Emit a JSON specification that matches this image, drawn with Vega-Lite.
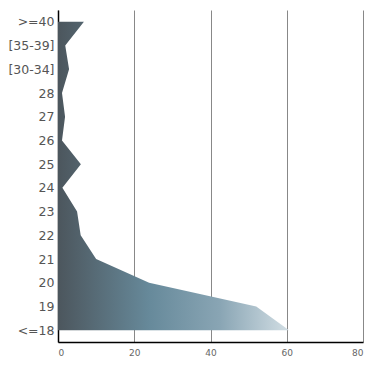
{
  "$schema": "https://vega.github.io/schema/vega-lite/v6.json",
  "width": 305,
  "height": 332,
  "padding": {"left": 7, "top": 10, "right": 10, "bottom": 0},
  "autosize": {"type": "pad"},
  "background": "white",
  "config": {"view": {"stroke": null}},
  "data": {
    "values": [
      {"age": ">=40", "value": 6.8},
      {"age": "[35-39]", "value": 1.9},
      {"age": "[30-34]", "value": 2.9},
      {"age": "28", "value": 1.05},
      {"age": "27", "value": 1.85},
      {"age": "26", "value": 1.05},
      {"age": "25", "value": 6.0},
      {"age": "24", "value": 1.15},
      {"age": "23", "value": 5.0},
      {"age": "22", "value": 5.95},
      {"age": "21", "value": 10.0},
      {"age": "20", "value": 23.9},
      {"age": "19", "value": 52.0},
      {"age": "<=18", "value": 60.6}
    ]
  },
  "mark": {
    "type": "area",
    "orient": "horizontal",
    "interpolate": "linear",
    "fill": {
      "gradient": "linear",
      "x1": 0, "y1": 0.5, "x2": 1, "y2": 0.5,
      "stops": [
        {"offset": 0, "color": "#4c565d"},
        {"offset": 0.4, "color": "#678a9b"},
        {"offset": 0.7, "color": "#89a5b4"},
        {"offset": 1, "color": "#d2dee4"}
      ]
    }
  },
  "encoding": {
    "y": {
      "field": "age",
      "type": "ordinal",
      "sort": null,
      "title": null,
      "scale": {"padding": 0.5},
      "axis": {
        "domain": true,
        "domainColor": "#000000",
        "domainWidth": 1.5,
        "ticks": false,
        "labelPadding": 4,
        "labelFontSize": 12.5,
        "labelColor": "#555555",
        "labelFont": "DejaVu Sans",
        "grid": false
      }
    },
    "x": {
      "field": "value",
      "type": "quantitative",
      "title": null,
      "scale": {"domain": [0, 80], "nice": false},
      "axis": {
        "values": [0, 20, 40, 60, 80],
        "domain": true,
        "domainColor": "#000000",
        "domainWidth": 1.5,
        "ticks": false,
        "labelPadding": 6,
        "labelFontSize": 9,
        "labelColor": "#666666",
        "labelFont": "DejaVu Sans",
        "grid": true,
        "gridColor": "#888888",
        "gridWidth": 1,
        "gridOpacity": 1
      }
    }
  }
}
